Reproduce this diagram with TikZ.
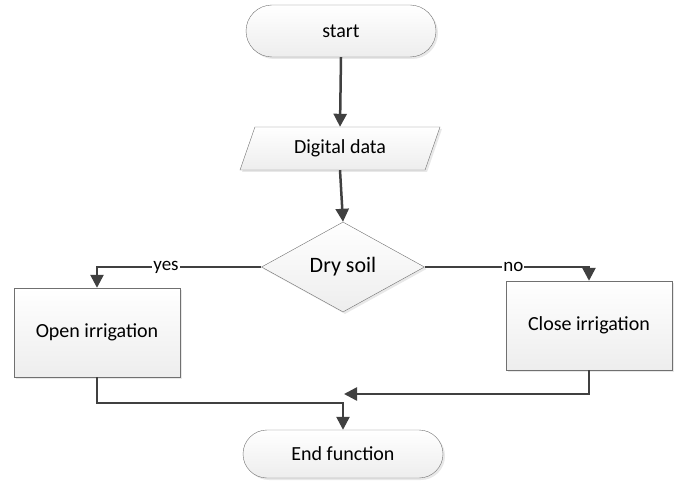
\documentclass[tikz,border=0pt]{standalone}
\usepackage{fontspec}
\setmainfont{Carlito}
\usetikzlibrary{shapes.geometric,shapes.misc,arrows.meta,shadows,positioning}
\definecolor{flowline}{HTML}{404040}
\definecolor{boxedge}{HTML}{707070}

\tikzset{
  box/.style={draw=boxedge, thin, top color=white, bottom color=gray!14,
    drop shadow={shadow xshift=2pt, shadow yshift=-2pt, fill=gray!35},
    font=\fontsize{20}{22}\selectfont, inner sep=0pt},
  terminal/.style={box, rounded rectangle},
  inputbox/.style={box, trapezium, trapezium left angle=65, trapezium right angle=115,
    trapezium stretches=true},
  decision/.style={box, diamond, font=\fontsize{22}{24}\selectfont},
  process/.style={box, rectangle},
  flow/.style={draw=flowline, line width=2.5pt, -{Triangle[length=13pt,width=13pt]}},
  answer/.style={fill=white, inner sep=1pt, font=\fontsize{19}{21}\selectfont}
}

\begin{document}
\begin{tikzpicture}[x=1pt, y=-1pt]
  \useasboundingbox (0,0) rectangle (678,484);

  % Nodes
  \node[terminal, minimum width=190, minimum height=52] (start) at (341,31) {start};
  \node[inputbox, minimum width=200, minimum height=43] (data) at (340,148.5) {Digital data};
  \node[decision, minimum width=163, minimum height=90] (dry) at (343,267) {Dry soil};
  \node[process, minimum width=166, minimum height=89] (open) at (97,332.5) {Open irrigation};
  \node[process, minimum width=166, minimum height=89] (close) at (589,325.5) {Close irrigation};
  \node[terminal, minimum width=200, minimum height=48] (end) at (343,454) {End function};

  % Junctions
  \coordinate (mergeR) at (344,394);
  \coordinate (mergeL) at (end.north |- 0,403);

  % Connectors
  \draw[flow] (start.south) -- (data.north);
  \draw[flow] (data.south) -- (dry.north);
  \draw[flow] (dry.west) -| (open.north) node[answer, pos=0.29] {yes};
  \draw[flow] (dry.east) -| (close.north) node[answer, pos=0.27] {no};
  \draw[flow] (close.south) |- (mergeR);
  \draw[flow] (open.south) |- (mergeL) -- (end.north);
\end{tikzpicture}
\end{document}
